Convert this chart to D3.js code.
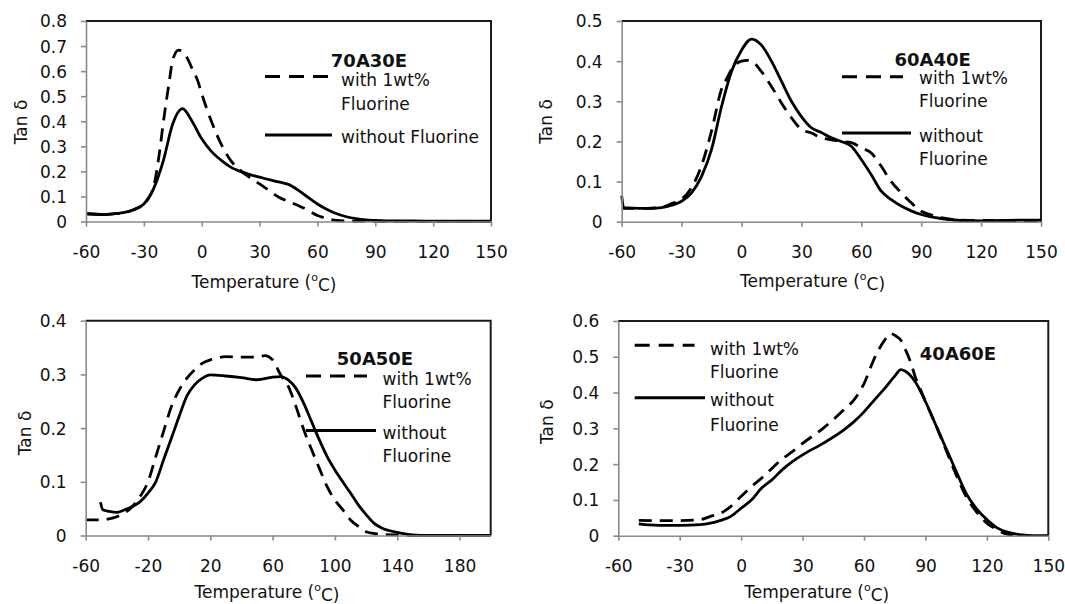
<!DOCTYPE html>
<html>
<head>
<meta charset="utf-8">
<script src="https://cdnjs.cloudflare.com/ajax/libs/d3/7.8.5/d3.min.js"></script>
<style>
  body { margin: 0; background: #fff; }
  text { font-family: "DejaVu Sans", sans-serif; fill: #111; }
</style>
</head>
<body>
<svg width="1065" height="604"></svg>
<script>
// tick labels
var xTicks30 = [-60, -30, 0, 30, 60, 90, 120, 150];
var xTicks40 = [-60, -20, 20, 60, 100, 140, 180];
var yTicks08 = [0, 0.1, 0.2, 0.3, 0.4, 0.5, 0.6, 0.7, 0.8];
var yTicks05 = [0, 0.1, 0.2, 0.3, 0.4, 0.5];
var yTicks04 = [0, 0.1, 0.2, 0.3, 0.4];
var yTicks06 = [0, 0.1, 0.2, 0.3, 0.4, 0.5, 0.6];

var seriesNames = ["with 1wt% Fluorine", "without Fluorine"];

// 70A30E
var t70With = [-60,-55,-50,-45,-40,-35,-30,-27,-25,-22,-20,-17,-15,-12,-10,-7,-5,-2,0,5,10,15,20,25,30,35,40,45,50,55,60,65,70,75,80,90,100,150];
var v70With = [0.031,0.029,0.028,0.031,0.036,0.048,0.07,0.10,0.137,0.27,0.39,0.55,0.645,0.684,0.677,0.645,0.61,0.56,0.51,0.40,0.31,0.244,0.204,0.175,0.15,0.123,0.097,0.08,0.064,0.045,0.024,0.012,0.004,0.002,0.001,0,0,0];
var t70Without = [-60,-55,-50,-45,-40,-35,-30,-25,-20,-15,-10,-5,0,5,10,15,20,25,30,35,40,45,50,55,60,65,70,75,80,85,90,100,110,120,130,140,150];
var v70Without = [0.031,0.029,0.028,0.031,0.036,0.048,0.07,0.13,0.24,0.39,0.45,0.40,0.33,0.28,0.245,0.217,0.2,0.187,0.177,0.167,0.158,0.148,0.125,0.097,0.07,0.048,0.031,0.019,0.011,0.006,0.004,0.002,0.002,0.001,0.001,0.001,0.001];

// 60A40E
var t60With = [-60,-55,-50,-45,-40,-35,-30,-25,-20,-15,-10,-7,-5,0,3,5,10,15,20,25,30,35,40,45,50,55,60,65,70,75,80,85,90,95,100,110,120,130,140,150];
var v60With = [0.033,0.033,0.033,0.034,0.036,0.045,0.056,0.085,0.14,0.226,0.33,0.36,0.38,0.40,0.402,0.40,0.374,0.337,0.296,0.259,0.23,0.221,0.209,0.204,0.20,0.197,0.184,0.171,0.138,0.10,0.072,0.047,0.026,0.017,0.01,0.004,0.003,0.003,0.003,0.003];
var t60Without = [-60,-59,-55,-50,-45,-40,-35,-30,-25,-20,-15,-10,-5,0,5,10,15,20,25,30,35,40,45,50,55,60,65,70,75,80,85,90,95,100,110,120,130,140,150];
var v60Without = [0.065,0.035,0.034,0.033,0.033,0.035,0.041,0.051,0.072,0.113,0.18,0.287,0.374,0.427,0.455,0.44,0.40,0.35,0.30,0.262,0.234,0.222,0.209,0.20,0.188,0.155,0.117,0.076,0.055,0.039,0.027,0.018,0.012,0.008,0.003,0.002,0.003,0.004,0.004];

// 50A50E
var t50With = [-60,-55,-50,-45,-40,-35,-30,-25,-20,-15,-10,-5,0,5,10,15,20,30,40,50,55,60,65,70,75,80,85,90,95,100,105,110,115,120,125,130,140,150,200];
var v50With = [0.029,0.029,0.029,0.031,0.035,0.042,0.054,0.073,0.10,0.147,0.194,0.24,0.271,0.293,0.309,0.321,0.327,0.333,0.332,0.332,0.335,0.327,0.30,0.278,0.24,0.197,0.16,0.125,0.091,0.066,0.048,0.029,0.017,0.007,0.004,0.002,0.001,0,0];
var t50Without = [-50.5,-49,-45,-40,-35,-30,-25,-20,-15,-10,-5,0,5,10,15,20,30,40,50,60,65,70,75,80,85,90,95,100,105,110,115,120,125,130,140,150,160,180,200];
var v50Without = [0.062,0.048,0.045,0.043,0.048,0.054,0.063,0.079,0.10,0.141,0.181,0.222,0.26,0.281,0.293,0.299,0.297,0.294,0.29,0.295,0.296,0.29,0.274,0.246,0.212,0.178,0.147,0.122,0.10,0.079,0.057,0.039,0.023,0.014,0.006,0.001,0,0,0];

// 40A60E
var t40With = [-50,-40,-30,-20,-15,-10,-5,0,5,10,15,20,25,30,40,50,55,60,65,70,73,75,78,80,83,85,87,90,95,100,105,110,115,120,125,130,135];
var v40With = [0.043,0.042,0.042,0.045,0.054,0.063,0.082,0.11,0.137,0.161,0.188,0.214,0.235,0.258,0.30,0.351,0.379,0.425,0.495,0.546,0.565,0.56,0.546,0.523,0.481,0.444,0.416,0.375,0.31,0.24,0.17,0.108,0.066,0.035,0.017,0.004,0];
var t40Without = [-50,-45,-40,-30,-20,-15,-10,-5,0,5,10,15,20,25,30,40,50,55,60,65,70,75,78,80,85,90,95,100,105,110,115,120,125,130,135,140,145,150];
var v40Without = [0.033,0.03,0.029,0.029,0.031,0.035,0.043,0.054,0.077,0.10,0.133,0.156,0.184,0.207,0.226,0.258,0.295,0.318,0.346,0.379,0.411,0.446,0.464,0.46,0.43,0.375,0.31,0.245,0.18,0.117,0.075,0.045,0.022,0.01,0.004,0.001,0,0];

function pairs(t, v) {
  return t.map(function(d, i) { return {t: d, v: v[i]}; });
}

var panels = [
  {name: "70A30E", xMax: 150, xTicks: xTicks30, yMax: 0.8, yTicks: yTicks08,
   l: 86, r: 491, t: 21, b: 221.5,
   withData: pairs(t70With, v70With), withoutData: pairs(t70Without, v70Without),
   title: [369, 60.5], yTitle: [20.5, 122], xTitle: [264, 282],
   dash: [265, 332, 76.5], solid: [265, 332, 135], textX: 341,
   lines: [["with 1wt%", 79.5], ["Fluorine", 103.5], ["without Fluorine", 137]]},
  {name: "60A40E", xMax: 150, xTicks: xTicks30, yMax: 0.5, yTicks: yTicks05,
   l: 621.7, r: 1041, t: 21, b: 221.7,
   withData: pairs(t60With, v60With), withoutData: pairs(t60Without, v60Without),
   title: [932.6, 59.5], yTitle: [546, 121.5], xTitle: [812.6, 281],
   dash: [842, 903, 76.7], solid: [842, 911, 133], textX: 919,
   lines: [["with 1wt%", 78], ["Fluorine", 100.5], ["without", 135.8], ["Fluorine", 159]]},
  {name: "50A50E", xMax: 200, xTicks: xTicks40, yMax: 0.4, yTicks: yTicks04,
   l: 85.7, r: 490.7, t: 320.7, b: 535.5,
   withData: pairs(t50With, v50With), withoutData: pairs(t50Without, v50Without),
   title: [375, 358.3], yTitle: [24.6, 433], xTitle: [267, 592],
   dash: [306, 367, 376], solid: [306, 376, 430.5], textX: 382.6,
   lines: [["with 1wt%", 379.3], ["Fluorine", 401.5], ["without", 433], ["Fluorine", 455.6]]},
  {name: "40A60E", xMax: 150, xTicks: xTicks30, yMax: 0.6, yTicks: yTicks06,
   l: 618.3, r: 1048.3, t: 321, b: 535.7,
   withData: pairs(t40With, v40With), withoutData: pairs(t40Without, v40Without),
   title: [958, 353.6], yTitle: [547.4, 421.7], xTitle: [816.7, 592],
   dash: [634.7, 694.6, 345.3], solid: [634.7, 705, 397.8], textX: 710,
   lines: [["with 1wt%", 348.6], ["Fluorine", 372], ["without", 400], ["Fluorine", 425]]}
];

var svg = d3.select("svg");
var fmtY = function(d) { return d === 0 ? "0" : d3.format(".1f")(d); };
var fmtX = function(d) { return String(d); };  // plain hyphen minus, like the original

panels.forEach(function(p) {
  var x = d3.scaleLinear().domain([-60, p.xMax]).range([p.l, p.r]);
  var y = d3.scaleLinear().domain([0, p.yMax]).range([p.b, p.t]);
  var g = svg.append("g");

  // plot area border (top + right are dark)
  g.append("path")
    .attr("d", "M" + p.l + "," + p.t + "H" + p.r + "V" + p.b)
    .attr("fill", "none")
    .attr("stroke", "#1a1a1a")
    .attr("stroke-width", 2);

  var line = d3.line()
    .x(function(d) { return x(d.t); })
    .y(function(d) { return y(d.v); })
    .curve(d3.curveMonotoneX);

  g.append("path")
    .datum(p.withoutData)
    .attr("d", line)
    .attr("fill", "none")
    .attr("stroke", "#000")
    .attr("stroke-width", 2.8);

  g.append("path")
    .datum(p.withData)
    .attr("d", line)
    .attr("fill", "none")
    .attr("stroke", "#000")
    .attr("stroke-width", 2.8)
    .attr("stroke-dasharray", "13,8");

  // axes
  var xa = g.append("g")
    .attr("transform", "translate(0," + p.b + ")")
    .call(d3.axisBottom(x).tickValues(p.xTicks).tickFormat(fmtX).tickSize(5).tickSizeOuter(0))
    .attr("font-size", 17)
    .attr("font-family", "DejaVu Sans");
  xa.selectAll("text").attr("y", 30.5).attr("dy", "0.35em");

  var ya = g.append("g")
    .attr("transform", "translate(" + p.l + ",0)")
    .call(d3.axisLeft(y).tickValues(p.yTicks).tickFormat(fmtY).tickSize(5).tickSizeOuter(0))
    .attr("font-size", 17)
    .attr("font-family", "DejaVu Sans");
  ya.selectAll("text").attr("x", -19).attr("dy", "0.35em");

  g.selectAll(".domain, .tick line")
    .attr("stroke", "#8a8a8a")
    .attr("stroke-width", 1.6);
  g.selectAll(".tick text").style("fill", "#111");

  // axis titles
  var xt = g.append("text")
    .attr("x", p.xTitle[0]).attr("y", p.xTitle[1])
    .attr("text-anchor", "middle")
    .attr("dominant-baseline", "central")
    .style("font-size", "17px")
    .text("Temperature (");
  xt.append("tspan").attr("dy", "-0.45em").style("font-size", "11px").text("o");
  xt.append("tspan").attr("dy", "0.45em").text("C)");

  g.append("text")
    .attr("transform", "translate(" + p.yTitle[0] + "," + p.yTitle[1] + ") rotate(-90)")
    .attr("text-anchor", "middle")
    .attr("dominant-baseline", "central")
    .style("font-size", "17px")
    .text("Tan δ");

  // legend
  g.append("text")
    .attr("x", p.title[0]).attr("y", p.title[1])
    .attr("text-anchor", "middle")
    .attr("dominant-baseline", "central")
    .style("font-size", "18px")
    .style("font-weight", "bold")
    .text(p.name);

  g.append("line")
    .attr("x1", p.dash[0]).attr("x2", p.dash[1])
    .attr("y1", p.dash[2]).attr("y2", p.dash[2])
    .attr("stroke", "#000").attr("stroke-width", 3)
    .attr("stroke-dasharray", "15,9");

  g.append("line")
    .attr("x1", p.solid[0]).attr("x2", p.solid[1])
    .attr("y1", p.solid[2]).attr("y2", p.solid[2])
    .attr("stroke", "#000").attr("stroke-width", 3);

  g.selectAll(".leg")
    .data(p.lines)
    .enter().append("text")
    .attr("class", "leg")
    .attr("x", p.textX)
    .attr("y", function(d) { return d[1]; })
    .attr("dominant-baseline", "central")
    .style("font-size", "17px")
    .text(function(d) { return d[0]; });
});
</script>
</body>
</html>
